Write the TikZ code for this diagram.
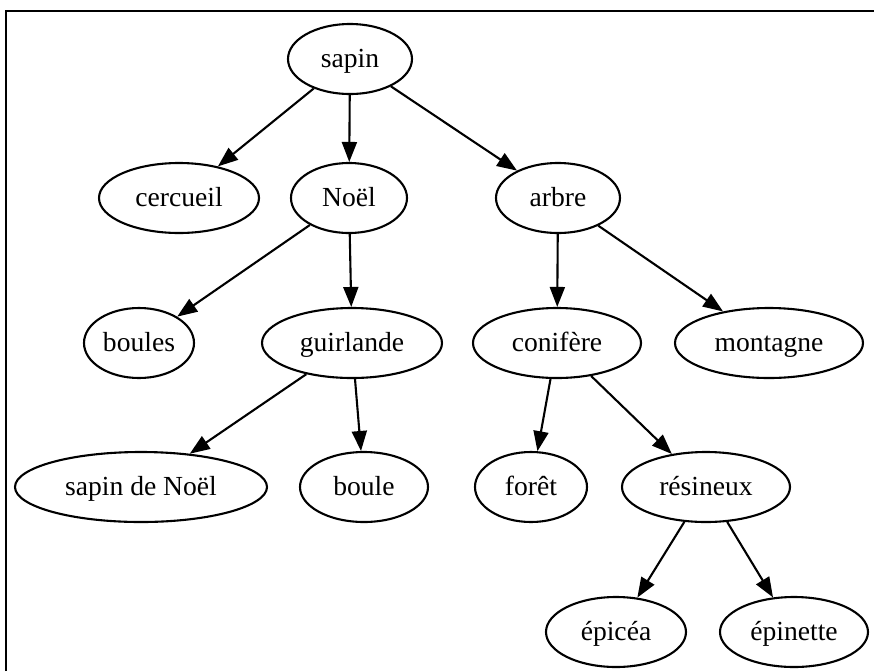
\documentclass[tikz,border=0pt]{standalone}
\usepackage{fontspec}
\setmainfont{Liberation Serif}
\usetikzlibrary{shapes.geometric,arrows.meta}

\begin{document}
\begin{tikzpicture}[x=0.5pt, y=-0.5pt,
    word/.style={ellipse, draw, line width=1.05pt, inner sep=0pt,
    minimum height=35pt, text height=10pt, text depth=2pt,
    font=\fontsize{13.8}{16}\selectfont},
    link/.style={-{Triangle[length=10pt, width=7.5pt]}, line width=1.05pt}]

    \useasboundingbox (0,0) rectangle (874,671);
    \draw[line width=1pt] (6,671) -- (6,11) -- (874,11);

    % row 1
    \node[word, minimum width=62pt] (Sapin) at (350,59) {sapin};

    % row 2
    \node[word, minimum width=80pt] (Cercueil) at (179,198) {cercueil};
    \node[word, minimum width=58pt] (Noel) at (349,198) {Noël};
    \node[word, minimum width=62pt] (Arbre) at (558,198) {arbre};

    % row 3
    \node[word, minimum width=55pt] (Boules) at (139,343) {boules};
    \node[word, minimum width=90pt] (Guirlande) at (352,343) {guirlande};
    \node[word, minimum width=84pt] (Conifere) at (557,343) {conifère};
    \node[word, minimum width=94pt] (Montagne) at (769,343) {montagne};

    % row 4
    \node[word, minimum width=126pt] (SapinNoel) at (141,487) {sapin de Noël};
    \node[word, minimum width=64pt] (Boule) at (364,487) {boule};
    \node[word, minimum width=56pt] (Foret) at (531,487) {forêt};
    \node[word, minimum width=84pt] (Resineux) at (706,487) {résineux};

    % row 5
    \node[word, minimum width=70pt] (Epicea) at (616,632) {épicéa};
    \node[word, minimum width=74pt] (Epinette) at (794,632) {épinette};

    \foreach \from/\to in {
        Sapin/Cercueil, Sapin/Noel, Sapin/Arbre,
        Noel/Boules, Noel/Guirlande,
        Arbre/Conifere, Arbre/Montagne,
        Guirlande/SapinNoel, Guirlande/Boule,
        Conifere/Foret, Conifere/Resineux,
        Resineux/Epicea, Resineux/Epinette}
    \draw [link] (\from)--(\to);

\end{tikzpicture}
\end{document}
